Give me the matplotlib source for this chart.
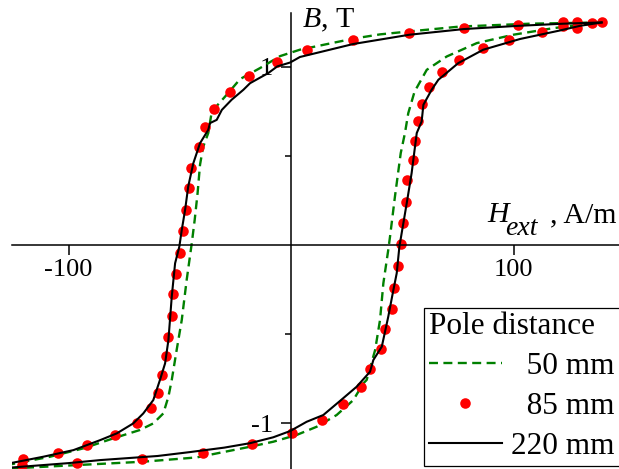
import matplotlib
matplotlib.use("Agg")
import matplotlib.pyplot as plt

plt.rcParams['font.family'] = ['Liberation Serif', 'DejaVu Serif']
plt.rcParams['mathtext.fontset'] = 'custom'
plt.rcParams['mathtext.rm'] = 'Liberation Serif'
plt.rcParams['mathtext.it'] = 'Liberation Serif:italic'
plt.rcParams['axes.unicode_minus'] = False

# 50 mm pole distance, dashed green
h50_down = [139.6, 107.4, 76.0, 53.5, 40.0, 28.0, 4.0, -4.9, -13.9, -22.9, -28.9, -35.6,
            -37.2, -39.5, -40.9, -42.0, -43.3, -44.6, -46.9, -49.1, -51.4, -53.6, -55.1,
            -57.4, -61.9, -67.9, -79.9, -93.3, -108.3, -126.0]
b50_down = [1.249, 1.242, 1.226, 1.199, 1.182, 1.158, 1.096, 1.060, 0.993, 0.931, 0.843, 0.749,
            0.628, 0.55, 0.45, 0.29, 0.14, 0.01, -0.197, -0.421, -0.590, -0.758, -0.852,
            -0.946, -1.002, -1.039, -1.086, -1.142, -1.189, -1.232]
h50_up = [-126.0, -66.4, -42.4, -18.4, -8.0, 2.5, 11.5, 20.5, 28.0, 32.5, 34.0, 37.8, 40.0,
          41.5, 43.7, 44.5, 46.7, 49.3, 51.2, 52.7, 55.5, 61.0, 70.0, 83.5, 99.9, 117.9, 139.6]
b50_up = [-1.255, -1.217, -1.193, -1.133, -1.105, -1.067, -1.021, -0.955, -0.871, -0.777,
          -0.758, -0.590, -0.421, -0.215, -0.028, 0.047, 0.271, 0.515, 0.628, 0.740, 0.86,
          0.983, 1.058, 1.133, 1.180, 1.217, 1.249]

# 85 mm pole distance, measured points
h85 = [139.6, 135.1, 128.4, 122.4, 102.2, 77.8, 53.2, 28.0, 7.0, -6.1, -19.0, -27.4, -34.6,
       -38.7, -41.2, -44.9, -45.7, -47.3, -48.7, -49.9, -51.8, -52.9, -53.6, -55.1, -56.2,
       -57.8, -59.6, -63.1, -69.4, -79.1, -91.8, -104.6, -120.6,
       -121.0, -96.0, -67.1, -39.5, -17.5, 0.5, 13.8, 23.2, 31.3, 35.5, 40.3, 42.2, 45.2,
       46.3, 47.9, 49.3, 50.5, 51.7, 52.3, 54.7, 55.7, 57.2, 58.7, 62.2, 68.0, 75.5, 86.2,
       98.0, 112.6, 122.1, 128.4]
b85 = [1.249, 1.245, 1.249, 1.249, 1.236, 1.217, 1.189, 1.148, 1.096, 1.026, 0.948, 0.861,
       0.763, 0.660, 0.552, 0.434, 0.318, 0.197, 0.079, -0.043, -0.165, -0.277, -0.399,
       -0.515, -0.624, -0.730, -0.830, -0.918, -0.998, -1.067, -1.124, -1.167, -1.204,
       -1.236, -1.227, -1.204, -1.167, -1.116, -1.056, -0.983, -0.893, -0.800, -0.697,
       -0.586, -0.474, -0.360, -0.240, -0.118, 0.006, 0.125, 0.243, 0.365, 0.478, 0.586,
       0.693, 0.792, 0.884, 0.970, 1.039, 1.105, 1.152, 1.196, 1.230, 1.219]

# 220 mm pole distance, solid black
h220_down = [139.6, 122.4, 102.2, 77.8, 53.2, 28.0, 4.0, -0.4, -6.2, -10.2, -18.4, -21.4,
             -26.7, -31.1, -33.4, -36.4, -37.2, -40.9, -43.9, -46.2, -47.6, -49.1, -50.2,
             -52.1, -53.6, -55.1, -56.6, -58.9, -61.9, -66.4, -70.9, -78.3, -85.8, -97.8,
             -111.3, -126.0]
b220_down = [1.249, 1.242, 1.230, 1.212, 1.180, 1.128, 1.055, 1.024, 1.002, 0.965, 0.908,
             0.871, 0.815, 0.758, 0.702, 0.684, 0.646, 0.571, 0.459, 0.328, 0.197, 0.084,
             -0.010, -0.103, -0.290, -0.534, -0.665, -0.758, -0.871, -0.946, -1.002, -1.058,
             -1.096, -1.152, -1.189, -1.225]
h220_up = [-126.0, -100.0, -85.8, -60.0, -45.4, -30.0, -18.4, -8.0, -0.4, 7.0, 14.5, 22.0,
           29.5, 35.5, 37.0, 40.8, 43.7, 46.0, 47.5, 48.7, 52.0, 54.2, 56.5, 58.7, 59.5,
           63.2, 66.2, 75.2, 86.4, 102.9, 120.9, 129.9, 139.6]
b220_up = [-1.250, -1.225, -1.208, -1.185, -1.163, -1.138, -1.113, -1.080, -1.045, -0.993,
           -0.955, -0.876, -0.796, -0.712, -0.646, -0.571, -0.403, -0.253, -0.159, -0.010,
           0.234, 0.403, 0.628, 0.693, 0.787, 0.871, 0.927, 1.021, 1.096, 1.156, 1.204,
           1.230, 1.249]

legend_labels = ['\u200750 mm', '\u200785 mm', '220 mm']

fig = plt.figure(figsize=(6.19, 4.69), dpi=100)
ax = fig.add_axes([12 / 619, 0, 607 / 619, 456 / 469])

green_style = dict(color='#008000', lw=1.7, dashes=(3.8, 2.3))
ln50, = ax.plot(h50_down, b50_down, **green_style)
ax.plot(h50_up, b50_up, **green_style)
ln85, = ax.plot(h85, b85, 'o', color='red', ms=7.6, mec='none')
ln220, = ax.plot(h220_down, b220_down, color='black', lw=1.5)
ax.plot(h220_up, b220_up, color='black', lw=1.5)

ax.set_xlim(-125.4, 147.4)
ax.set_ylim(-1.258, 1.302)

# axes crossing at the origin
for side in ['top', 'right']:
    ax.spines[side].set_visible(False)
ax.spines['left'].set_position(('data', 0))
ax.spines['bottom'].set_position(('data', 0))
ax.spines['left'].set_linewidth(1.1)
ax.spines['bottom'].set_linewidth(1.1)

ax.set_xticks([-100, 100])
ax.set_xticklabels(['-100', '100'])
ax.set_yticks([-1, 1])
ax.set_yticklabels(['-1', '1'])
ax.set_yticks([-0.5, 0.5], minor=True)
ax.tick_params(axis='both', which='major', direction='out', length=7.2, width=1.1,
               labelsize=19)
ax.tick_params(axis='y', which='minor', direction='out', length=4.3, width=1.1)
ax.tick_params(axis='x', pad=3)
ax.tick_params(axis='y', pad=6)

# axis names next to the axis ends
ax.text(4.9, 1.219, '$B$, T', fontsize=21.5, va='baseline', ha='left')
ax.text(88.1, 0.129, 'H', fontsize=21.5, style='italic', va='baseline', ha='left')
ax.text(96.2, 0.056, 'ext', fontsize=20, style='italic', va='baseline', ha='left')
ax.text(146.5, 0.129, ', A/m', fontsize=21.5, va='baseline', ha='right')

leg = ax.legend([ln50, ln85, ln220], legend_labels, title='Pole distance',
                loc='lower right', bbox_to_anchor=(1.001, 0.0064),
                bbox_transform=fig.transFigure, borderaxespad=0,
                fontsize=22.5, title_fontsize=22.5, alignment='left',
                handlelength=2.35, handletextpad=0.3, labelspacing=0.35,
                borderpad=0.15, fancybox=False, framealpha=1, edgecolor='black')
leg.get_frame().set_linewidth(0.9)

fig.savefig('out.png', dpi=100)
